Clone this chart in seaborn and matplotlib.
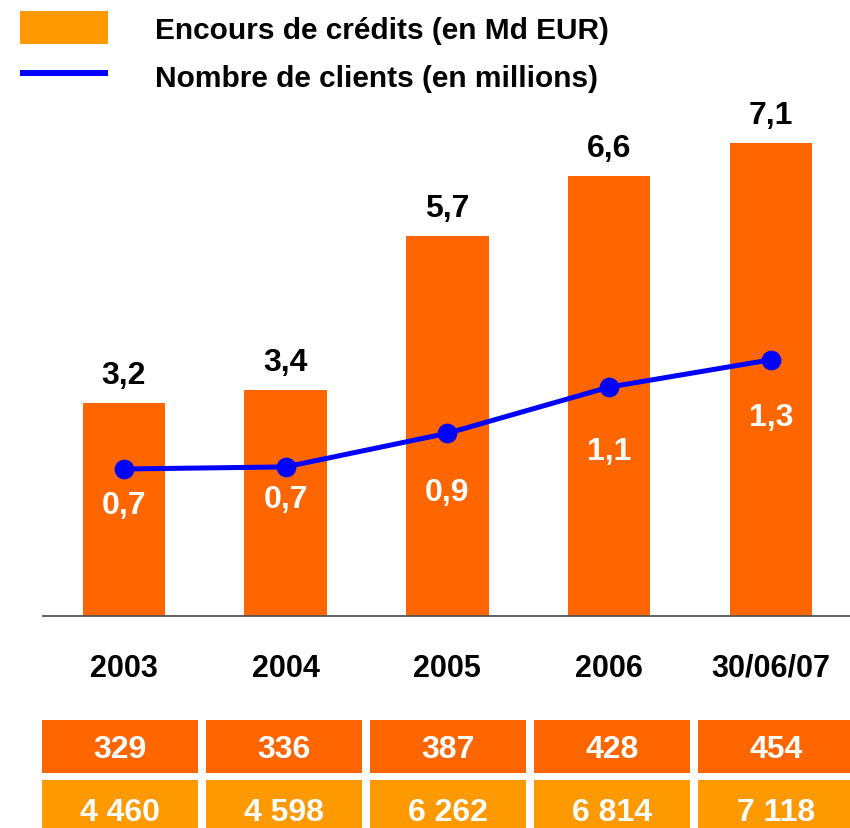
import matplotlib
matplotlib.use("Agg")
import matplotlib.pyplot as plt
import seaborn as sns
import numpy as np
from matplotlib.patches import Rectangle, Patch
from matplotlib.lines import Line2D

# ---- data ----
categories = ["2003", "2004", "2005", "2006", "30/06/07"]
credits = [3.2, 3.4, 5.7, 6.6, 7.1]
credit_labels = ["3,2", "3,4", "5,7", "6,6", "7,1"]
clients = [0.70, 0.71, 0.87, 1.09, 1.22]
client_labels = ["0,7", "0,7", "0,9", "1,1", "1,3"]
row1_values = ["329", "336", "387", "428", "454"]
row2_values = ["4 460", "4 598", "6 262", "6 814", "7 118"]
legend_labels = ["Encours de crédits (en Md EUR)", "Nombre de clients (en millions)"]

# ---- style ----
BAR = "#FF6600"
ROW2 = "#FF9900"
BLUE = "#0000FF"
plt.rcParams["font.family"] = ["Liberation Sans", "DejaVu Sans"]
plt.rcParams["font.weight"] = "bold"

W, H = 850, 829
fig = plt.figure(figsize=(W / 100, H / 100), dpi=100)

def fx(px):
    return px / W

def fy(py):
    return 1 - py / H

base_px = 617
ax = fig.add_axes([fx(43), fy(base_px), 1 - fx(43), base_px / H])
ax.patch.set_alpha(0)

sns.barplot(x=categories, y=credits, ax=ax, color=BAR, saturation=1,
            width=0.51, edgecolor="none", linewidth=0)
ax.set_ylim(0, base_px / 66.6)

ax2 = ax.twinx()
sns.pointplot(x=categories, y=clients, ax=ax2, color=BLUE, markers="o",
              linestyles="-", markersize=11.5, linewidth=3.6, errorbar=None)
ax2.set_ylim(0, base_px / 210)

ax.set_xlim(-0.5, 4.49)
ax2.set_xlim(-0.5, 4.49)

for a in (ax, ax2):
    for s in ("top", "right", "left"):
        a.spines[s].set_visible(False)
    a.set_ylabel("")
    a.set_xlabel("")
    a.set_yticks([])
ax2.spines["bottom"].set_visible(False)
ax.spines["bottom"].set_color("#555555")
ax.spines["bottom"].set_linewidth(1.3)
ax.spines["bottom"].set_zorder(5)

ax.tick_params(axis="x", length=0, pad=26.5, labelsize=22)
for t in ax.get_xticklabels():
    t.set_fontweight("bold")
ax2.tick_params(axis="x", length=0, labelbottom=False)

# labels above bars
for i, (v, lab) in enumerate(zip(credits, credit_labels)):
    ax.annotate(lab, (i, v), xytext=(0, 14.4), textcoords="offset points",
                ha="center", va="baseline", fontsize=23, fontweight="bold",
                color="black")

# labels under line points
client_offsets = [31.7, 28.8, 48.2, 51.8, 46.8]
for i, (v, lab) in enumerate(zip(clients, client_labels)):
    ax2.annotate(lab, (i, v), xytext=(0, -client_offsets[i]),
                 textcoords="offset points", ha="center", va="baseline",
                 fontsize=23, fontweight="bold", color="white")

# bottom table
cell_left, cell_pitch, cell_w = 42, 164, 156
rows = [(row1_values, BAR, 721, 774, 747), (row2_values, ROW2, 781, 835, 810)]
for vals, col, top, bot, yc in rows:
    for i, txt in enumerate(vals):
        x0 = cell_left + i * cell_pitch
        fig.patches.append(Rectangle((fx(x0), fy(bot)), cell_w / W, (bot - top) / H,
                                     transform=fig.transFigure, facecolor=col,
                                     edgecolor="none"))
        fig.text(fx(x0 + cell_w / 2), fy(yc + 11.5), txt, ha="center", va="baseline",
                 fontsize=23, fontweight="bold", color="white")

# legend
fs = 21.5
fpx = fs / 0.72
handles = [Patch(facecolor=ROW2, edgecolor="none"),
           Line2D([0], [0], color=BLUE, linewidth=4.3, solid_capstyle="butt")]
leg = fig.legend(handles, legend_labels, loc="upper left",
                 bbox_to_anchor=(fx(20), fy(12)), frameon=False,
                 handlelength=88 / fpx, handleheight=40 / fpx,
                 handletextpad=47 / fpx, labelspacing=0.5, borderpad=0,
                 borderaxespad=0, prop={"weight": "bold", "size": fs})

fig.savefig("out.png", dpi=100)
